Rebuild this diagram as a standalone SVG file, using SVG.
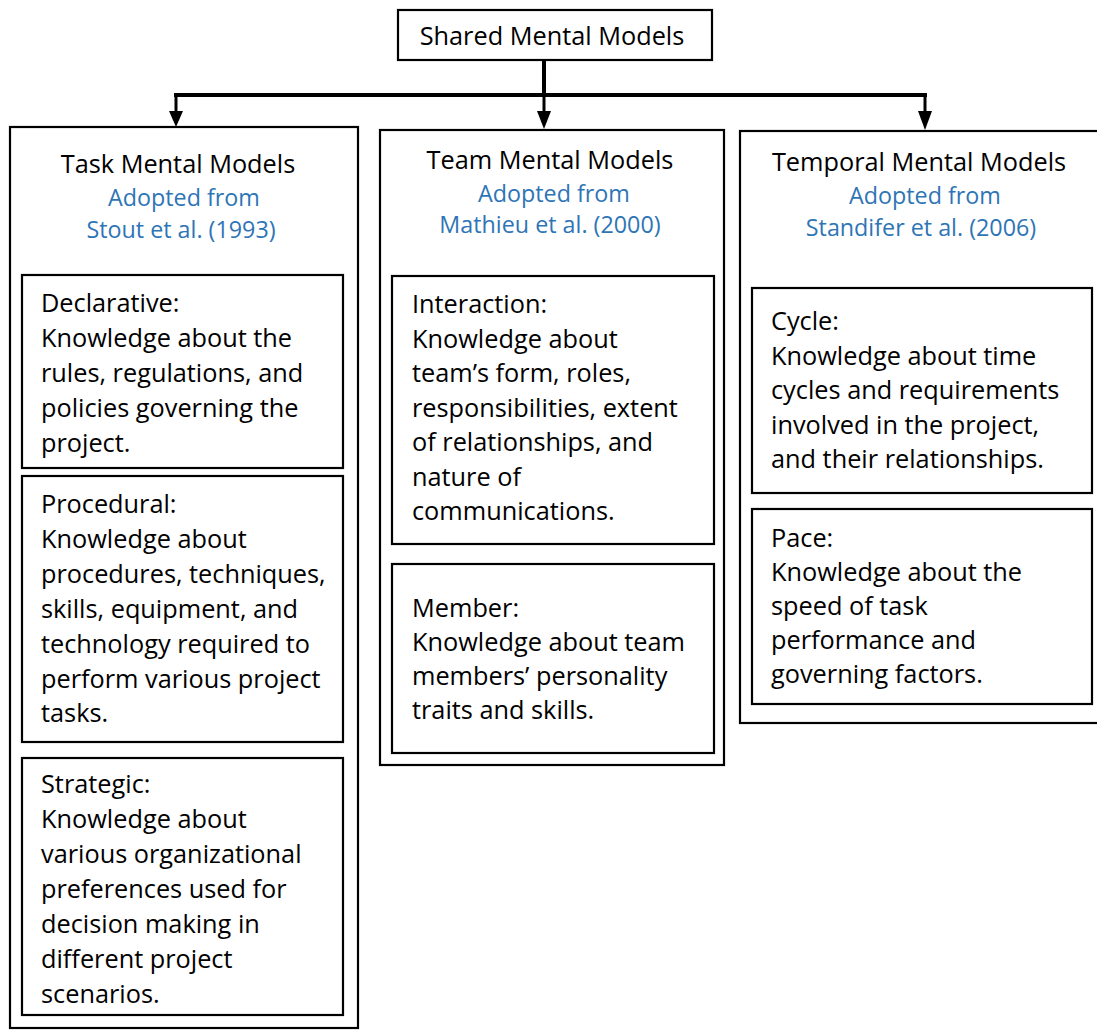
<svg xmlns="http://www.w3.org/2000/svg" width="1097" height="1030" viewBox="0 0 1097 1030">
<style>
.box{fill:#fff;stroke:#000;stroke-width:2.2}
.t{font-family:"Open Sans",sans-serif;font-size:25.3px;fill:#000}
.h{font-family:"Open Sans",sans-serif;font-size:25.3px;fill:#000;text-anchor:middle}
.b{font-family:"Open Sans",sans-serif;font-size:23.3px;fill:#2E75B6;text-anchor:middle}
.c{stroke:#000;stroke-width:4;fill:none}
.s{stroke:#000;stroke-width:3;fill:none}
</style>
<rect width="1097" height="1030" fill="#fff"/>
<g id="connectors">
<path class="c" d="M544,60 V95"/>
<path class="c" d="M174,95 H927"/>
<path class="s" d="M176,95 V112"/>
<path class="s" d="M544,95 V112"/>
<path class="s" d="M925,95 V112"/>
<path d="M169,111 L183,111 L176,127 Z" fill="#000"/>
<path d="M537,111 L551,111 L544,129 Z" fill="#000"/>
<path d="M918,111 L932,111 L925,130 Z" fill="#000"/>
</g>
<g id="shared">
<rect class="box" x="398" y="10" width="314" height="50"/>
<text class="h" x="552" y="45">Shared Mental Models</text>
</g>
<g id="task">
<rect class="box" x="10" y="127" width="348" height="901"/>
<text class="h" x="178" y="173">Task Mental Models</text>
<text class="b" x="184" y="206">Adopted from</text>
<text class="b" x="181" y="238">Stout et al. (1993)</text>
</g>
<g id="declarative">
<rect class="box" x="22" y="275" width="321" height="193"/>
<text class="t"><tspan x="41" y="312">Declarative:</tspan><tspan x="41" y="347">Knowledge about the</tspan><tspan x="41" y="382">rules, regulations, and</tspan><tspan x="41" y="417">policies governing the</tspan><tspan x="41" y="452">project.</tspan></text>
</g>
<g id="procedural">
<rect class="box" x="22" y="476" width="321" height="266"/>
<text class="t"><tspan x="41" y="513">Procedural:</tspan><tspan x="41" y="548">Knowledge about</tspan><tspan x="41" y="583">procedures, techniques,</tspan><tspan x="41" y="618">skills, equipment, and</tspan><tspan x="41" y="653">technology required to</tspan><tspan x="41" y="688">perform various project</tspan><tspan x="41" y="722">tasks.</tspan></text>
</g>
<g id="strategic">
<rect class="box" x="22" y="758" width="321" height="257"/>
<text class="t"><tspan x="41" y="793">Strategic:</tspan><tspan x="41" y="828">Knowledge about</tspan><tspan x="41" y="863">various organizational</tspan><tspan x="41" y="898">preferences used for</tspan><tspan x="41" y="933">decision making in</tspan><tspan x="41" y="968">different project</tspan><tspan x="41" y="1003">scenarios.</tspan></text>
</g>
<g id="team">
<rect class="box" x="380" y="130" width="344" height="635"/>
<text class="h" x="550" y="169">Team Mental Models</text>
<text class="b" x="554" y="202">Adopted from</text>
<text class="b" x="550" y="233">Mathieu et al. (2000)</text>
</g>
<g id="interaction">
<rect class="box" x="392" y="276" width="322" height="268"/>
<text class="t"><tspan x="412" y="313">Interaction:</tspan><tspan x="412" y="348">Knowledge about</tspan><tspan x="412" y="382">team’s form, roles,</tspan><tspan x="412" y="417">responsibilities, extent</tspan><tspan x="412" y="451">of relationships, and</tspan><tspan x="412" y="486">nature of</tspan><tspan x="412" y="520">communications.</tspan></text>
</g>
<g id="member">
<rect class="box" x="392" y="564" width="322" height="189"/>
<text class="t"><tspan x="412" y="617">Member:</tspan><tspan x="412" y="651">Knowledge about team</tspan><tspan x="412" y="685">members’ personality</tspan><tspan x="412" y="719">traits and skills.</tspan></text>
</g>
<g id="temporal">
<rect class="box" x="740" y="131" width="370" height="592"/>
<text class="h" x="919" y="171">Temporal Mental Models</text>
<text class="b" x="925" y="204">Adopted from</text>
<text class="b" x="921" y="236">Standifer et al. (2006)</text>
</g>
<g id="cycle">
<rect class="box" x="752" y="288" width="340" height="205"/>
<text class="t"><tspan x="771" y="330">Cycle:</tspan><tspan x="771" y="365">Knowledge about time</tspan><tspan x="771" y="399">cycles and requirements</tspan><tspan x="771" y="434">involved in the project,</tspan><tspan x="771" y="468">and their relationships.</tspan></text>
</g>
<g id="pace">
<rect class="box" x="752" y="509" width="340" height="195"/>
<text class="t"><tspan x="771" y="547">Pace:</tspan><tspan x="771" y="581">Knowledge about the</tspan><tspan x="771" y="615">speed of task</tspan><tspan x="771" y="649">performance and</tspan><tspan x="771" y="683">governing factors.</tspan></text>
</g>
</svg>
